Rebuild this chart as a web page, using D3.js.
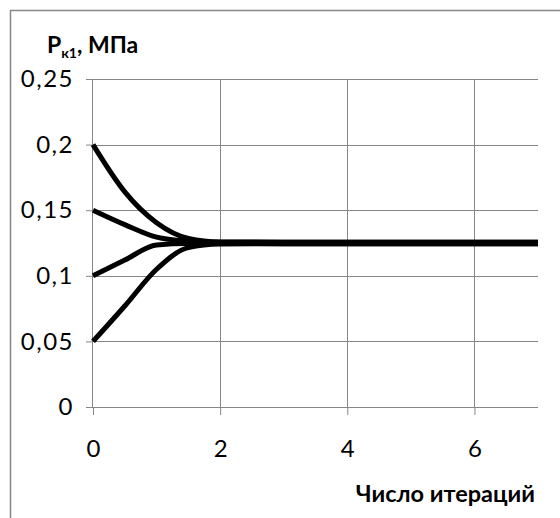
<!DOCTYPE html>
<html>
<head>
<meta charset="utf-8">
<script src="https://cdn.jsdelivr.net/npm/d3@7"></script>
<style>
  body { margin: 0; background: #fff; }
  text { font-family: Lato, "Open Sans", sans-serif; fill: #000; }
</style>
</head>
<body>
<script>
// data
var iterations = [0, 0.5, 1, 1.5, 2, 3, 4, 5, 6, 7];
var p200 = [0.2, 0.164, 0.1405, 0.1285, 0.1258, 0.1256, 0.1256, 0.1256, 0.1256, 0.1256];
var p150 = [0.15, 0.139, 0.1295, 0.1265, 0.1256, 0.1256, 0.1256, 0.1256, 0.1256, 0.1256];
var p100 = [0.1, 0.112, 0.1235, 0.1246, 0.1246, 0.1245, 0.1245, 0.1245, 0.1245, 0.1245];
var p050 = [0.05, 0.077, 0.105, 0.1215, 0.1242, 0.1245, 0.1245, 0.1245, 0.1245, 0.1245];
var xTicks = [0, 2, 4, 6];
var yTicks = [0, 0.05, 0.1, 0.15, 0.2, 0.25];

//Margins
var W = 560, H = 518;
var margin = {top: 79, right: 22, bottom: 111, left: 93},
    width = W - margin.left - margin.right,
    height = H - margin.top - margin.bottom;

var svg = d3.select("body").append("svg")
    .attr("width", W)
    .attr("height", H);

// chart border
svg.append("rect")
    .attr("x", 10.5).attr("y", 10.5)
    .attr("width", W).attr("height", H)
    .attr("fill", "none")
    .attr("stroke", "#868686")
    .attr("stroke-width", 1.5);

var g = svg.append("g")
    .attr("transform", "translate(" + margin.left + "," + margin.top + ")");

var x = d3.scaleLinear().domain([0, 7]).range([0, width]);
var y = d3.scaleLinear().domain([0, 0.25]).range([height, 0]);

var fmt = function(d){ return String(d).replace(".", ","); };

// grid
g.selectAll(".hgrid").data(yTicks.slice(1)).enter().append("line")
    .attr("x1", 0).attr("x2", width)
    .attr("y1", function(d){ return Math.round(y(d)) + 0.5; })
    .attr("y2", function(d){ return Math.round(y(d)) + 0.5; })
    .attr("stroke", "#868686");
g.selectAll(".vgrid").data(xTicks.slice(1)).enter().append("line")
    .attr("y1", 0).attr("y2", height)
    .attr("x1", function(d){ return Math.round(x(d)) + 0.5; })
    .attr("x2", function(d){ return Math.round(x(d)) + 0.5; })
    .attr("stroke", "#868686");

// axes
var yAxis = g.append("g")
    .call(d3.axisLeft(y).tickValues(yTicks).tickFormat(fmt).tickSize(7).tickPadding(12));
var xAxis = g.append("g")
    .attr("transform", "translate(0," + height + ")")
    .call(d3.axisBottom(x).tickValues(xTicks).tickFormat(fmt).tickSize(8).tickSizeOuter(0).tickPadding(25));

[yAxis, xAxis].forEach(function(a){
    a.select(".domain").attr("stroke", "#868686");
    a.selectAll(".tick line").attr("stroke", "#868686");
    a.selectAll(".tick text").style("font-size", "24px").style("font-family", "Lato");
});
yAxis.selectAll(".tick text").style("letter-spacing", "1.5px");
yAxis.select(".domain").attr("d", "M-0.5," + height + "V0");
xAxis.select(".domain").attr("d", "M0,0.5H" + width);

// lines
var line = d3.line()
    .x(function(d){ return x(d[0]); })
    .y(function(d){ return y(d[1]); })
    .curve(d3.curveMonotoneX);

[p200, p150, p100, p050].forEach(function(s){
    g.append("path")
        .datum(iterations.map(function(t, i){ return [t, s[i]]; }))
        .attr("d", line)
        .attr("fill", "none")
        .attr("stroke", "#000")
        .attr("stroke-width", 5)
        .attr("stroke-linejoin", "round");
});

// titles
var yt = svg.append("text")
    .attr("x", 47).attr("y", 53)
    .style("font-size", "23px").style("font-weight", "bold");
yt.append("tspan").text("P");
yt.append("tspan").attr("dy", 5).style("font-size", "14px").text("к1");
yt.append("tspan").attr("dy", -5).text(", МПа");

svg.append("text")
    .attr("x", 535).attr("y", 502)
    .attr("text-anchor", "end")
    .style("font-size", "23.5px").style("font-weight", "bold")
    .text("Число итераций");
</script>
</body>
</html>
